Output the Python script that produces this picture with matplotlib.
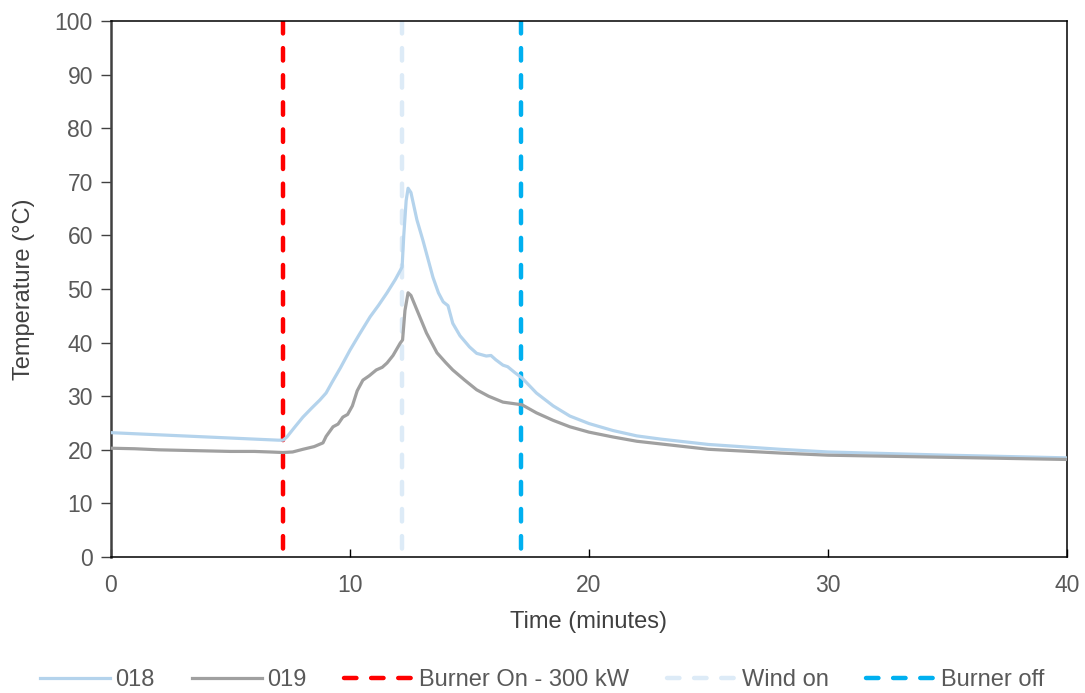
import matplotlib
matplotlib.use("Agg")
import matplotlib.pyplot as plt
import numpy as np

plt.rcParams['font.family'] = ['Liberation Sans', 'DejaVu Sans']

# Series 018 (time in minutes, temperature in °C)
t_018 = [0, 1, 2, 3, 4, 5, 6, 7.0, 7.2, 7.36, 7.7, 8.03, 8.4, 8.74, 9.0, 9.25, 9.6, 10.0, 10.4,
         10.84, 11.2, 11.55, 11.9, 12.18, 12.25, 12.35, 12.43, 12.55, 12.8, 13.05, 13.3, 13.47,
         13.7, 13.9, 14.1, 14.3, 14.6, 15.0, 15.3, 15.7, 15.9, 16.1, 16.4, 16.6, 16.9, 17.2,
         17.5, 17.8, 18.5, 19.2, 20, 21, 22, 23, 25, 28, 30, 35, 40]
T_018 = [23.2, 23.0, 22.8, 22.6, 22.4, 22.2, 22.0, 21.8, 21.8, 22.4, 24.3, 26.1, 27.8, 29.3, 30.6,
         32.6, 35.3, 38.6, 41.6, 44.8, 47.0, 49.3, 51.8, 54.1, 60.0, 66.5, 68.8, 68.0, 62.9, 59.1,
         55.0, 52.2, 49.3, 47.6, 46.9, 43.6, 41.3, 39.2, 38.0, 37.5, 37.6, 36.8, 35.8, 35.5, 34.4,
         33.4, 32.0, 30.6, 28.2, 26.3, 24.9, 23.6, 22.6, 22.0, 21.0, 20.1, 19.6, 19.0, 18.5]

# Series 019
t_019 = [0, 1, 2, 3, 4, 5, 6, 6.65, 7.2, 7.6, 8.03, 8.5, 8.87, 9.0, 9.29, 9.5, 9.7, 9.9, 10.1,
         10.3, 10.54, 10.8, 11.1, 11.35, 11.55, 11.8, 12.1, 12.2, 12.3, 12.43, 12.55, 12.8, 13.2,
         13.64, 14.0, 14.3, 14.8, 15.3, 15.8, 16.4, 17.2, 17.8, 18.5, 19.2, 20, 21, 22, 23, 25,
         28, 30, 35, 40]
T_019 = [20.3, 20.2, 20.0, 19.9, 19.8, 19.7, 19.7, 19.6, 19.5, 19.6, 20.1, 20.6, 21.3, 22.5, 24.3,
         24.8, 26.1, 26.6, 28.2, 31.0, 33.0, 33.8, 34.9, 35.4, 36.2, 37.6, 39.9, 40.5, 46.0, 49.3,
         48.8, 46.1, 41.8, 38.1, 36.3, 34.9, 33.0, 31.2, 30.0, 28.9, 28.4, 26.9, 25.5, 24.3, 23.3,
         22.4, 21.6, 21.1, 20.1, 19.4, 19.0, 18.6, 18.2]

events = ["Burner On - 300 kW", "Wind on", "Burner off"]
event_times = [7.2, 12.18, 17.15]
event_colors = ["#FF0000", "#DDEBF7", "#00B0F0"]

fig = plt.figure(figsize=(10.85, 6.93), dpi=100)
ax = fig.add_axes([0.1023, 0.1962, 0.8811, 0.7735])

ax.plot(t_018, T_018, color="#B4D3EC", lw=2.3, label="018", zorder=3)
ax.plot(t_019, T_019, color="#A0A0A0", lw=2.3, label="019", zorder=3)
for name, tx, c in zip(events, event_times, event_colors):
    ax.plot([tx, tx], [100, 0], color=c, lw=3.2, dashes=(2.8, 3.3),
            dash_capstyle="round", label=name, zorder=2)

ax.set_xlim(0, 40)
ax.set_ylim(0, 100)
ax.set_xticks([0, 10, 20, 30, 40])
ax.set_yticks(np.arange(0, 101, 10))
for s in ["top", "right", "bottom"]:
    ax.spines[s].set_color("#000000")
    ax.spines[s].set_linewidth(1.1)
ax.spines["left"].set_color("#404040")
ax.spines["left"].set_linewidth(1.8)
ax.tick_params(axis="y", colors="#595959", labelsize=16.5, direction="out", length=7,
               width=1, color="#404040", pad=6)
ax.tick_params(axis="x", colors="#595959", labelsize=16.5, direction="in", length=6,
               width=1, color="#000000", pad=12)
ax.set_xlabel("Time (minutes)", fontsize=17, color="#404040", labelpad=10)
ax.set_ylabel("Temperature (°C)", fontsize=17, color="#404040", labelpad=14)

leg = fig.legend(loc="center", bbox_to_anchor=(0.5, 1 - 680 / 693), ncol=5, frameon=False,
                 fontsize=17, handlelength=2.97, columnspacing=1.6, handletextpad=0.2,
                 borderpad=0)
for txt in leg.get_texts():
    txt.set_color("#595959")

fig.savefig("out.png", dpi=100)
